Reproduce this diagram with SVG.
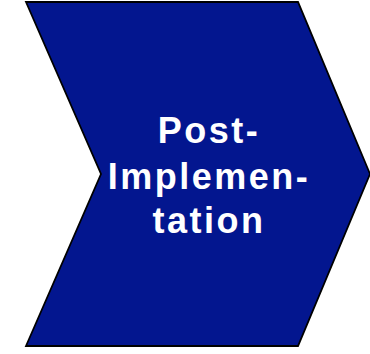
<svg xmlns="http://www.w3.org/2000/svg" width="370" height="354" viewBox="0 0 370 354">
<style>
.shape{fill:#03168F;stroke:#000;stroke-width:1.8;stroke-linejoin:miter}
.lbl{fill:#fff;font-family:"Liberation Sans",Arial,sans-serif;font-weight:bold;font-size:36px;letter-spacing:2.5px;text-anchor:middle}
</style>
<rect width="370" height="354" fill="#fff"/>
<g id="chevron">
<polygon class="shape" points="26,2 298,2 370,174 298,346 26,346 101,174"/>
<text class="lbl" x="209" y="143">Post-</text>
<text class="lbl" x="209" y="189">Implemen-</text>
<text class="lbl" x="209" y="233">tation</text>
</g>
<g id="connectors"/>
</svg>
